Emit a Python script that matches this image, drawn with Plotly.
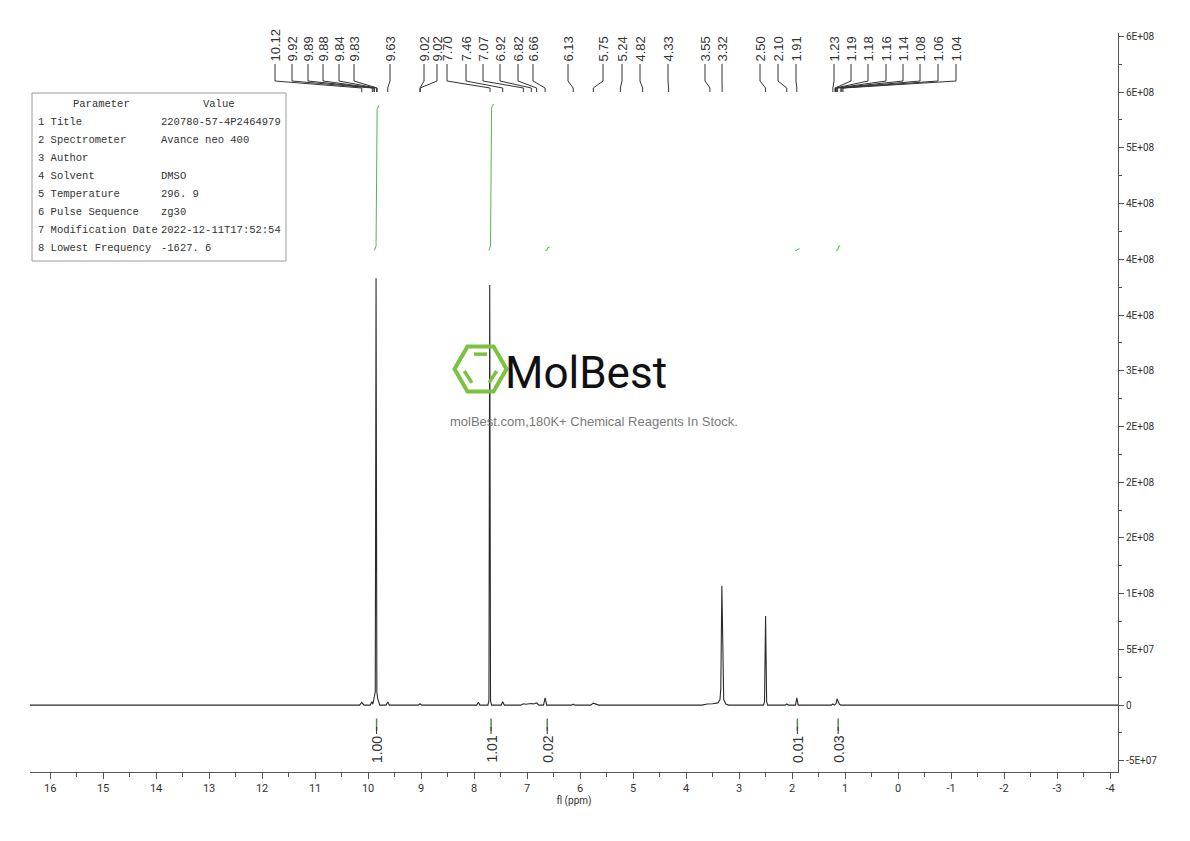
import plotly.graph_objects as go

# 1H NMR trace (ppm, intensity)
shift_ppm = [16.38, 10.16, 10.12, 10.08, 9.96, 9.93, 9.91, 9.895, 9.88, 9.865, 9.85, 9.835, 9.82, 9.80, 9.78,
             9.66, 9.63, 9.60, 9.05, 9.02, 8.99, 7.95, 7.92, 7.89, 7.74, 7.72, 7.705, 7.69, 7.67,
             7.49, 7.46, 7.43, 7.12, 7.07, 7.02, 6.96, 6.92, 6.88, 6.82, 6.78, 6.69, 6.66, 6.63,
             6.16, 6.13, 6.10, 5.80, 5.75, 5.70, 5.65, 3.70, 3.60, 3.50, 3.40, 3.36, 3.345, 3.325,
             3.305, 3.29, 3.25, 3.20, 2.54, 2.52, 2.50, 2.48, 2.46, 2.13, 2.10, 2.07, 1.935, 1.91,
             1.885, 1.26, 1.23, 1.20, 1.17, 1.15, 1.13, 1.11, 1.08, -4.15]
intensity = [0, 0, 2.5e6, 0, 0, 3e6, 8e5, 5e6, 7e6, 1.2e7, 3.83e8, 1.2e7, 6e6, 3e6, 0,
             0, 2.8e6, 0, 0, 1.2e6, 0, 0, 2.5e6, 0, 0, 4e6, 3.77e8, 4e6, 0,
             0, 3e6, 0, 0, 1.2e6, 8e5, 1.2e6, 1.5e6, 1e6, 2e6, 0, 0, 6.5e6, 0,
             0, 8e5, 0, 0, 1.8e6, 8e5, 0, 0, 1.0e6, 1.2e6, 2e6, 5e6, 1.5e7, 1.07e8,
             1.5e7, 5e6, 1e6, 0, 0, 3e6, 8.0e7, 3e6, 0, 0, 1e6, 0, 0, 6.6e6,
             0, 0, 1e6, 0, 1.5e6, 5.7e6, 3e6, 1e6, 0, 0]

# picked peaks
peak_ppm = [10.12, 9.92, 9.89, 9.88, 9.84, 9.83, 9.63, 9.02, 9.02, 7.70, 7.46, 7.07, 6.92, 6.82, 6.66,
            6.13, 5.75, 5.24, 4.82, 4.33, 3.55, 3.32, 2.50, 2.10, 1.91, 1.23, 1.19, 1.18, 1.16, 1.14,
            1.08, 1.06, 1.04]

# integrations
integ_ppm = [9.84, 7.68, 6.62, 1.90, 1.13]
integ_val = [1.00, 1.01, 0.02, 0.01, 0.03]

y_tickvals = [-5e7, 0, 5e7, 1e8, 1.5e8, 2e8, 2.5e8, 3e8, 3.5e8, 4e8, 4.5e8, 5e8, 5.5e8, 6e8]
y_ticktext = ["-5E+07", "0", "5E+07", "1E+08", "2E+08", "2E+08", "2E+08", "3E+08", "4E+08",
              "4E+08", "4E+08", "5E+08", "6E+08", "6E+08"]
x_tickvals = list(range(16, -5, -1))

param_names = ["1 Title", "2 Spectrometer", "3 Author", "4 Solvent", "5 Temperature",
               "6 Pulse Sequence", "7 Modification Date", "8 Lowest Frequency"]
param_values = ["220780-57-4P2464979", "Avance neo 400", "", "DMSO", "296. 9", "zg30",
                "2022-12-11T17:52:54", "-1627. 6"]

# label columns (screen pixel x) used by the peak-picking header
label_px = [275, 292, 308, 323, 339, 354, 390, 424, 437, 447, 466, 483, 500, 518, 533,
            568, 603, 622, 640, 668, 705, 722, 760, 778, 796, 834, 851, 868, 886, 903,
            920, 938, 956]

W, H = 1190, 841
OFF = 8  # default page margin around the figure
PL, PR, PT, PB = 30, 1118, 33, 772
X0, X1 = 16.38, -4.15
Y0, Y1 = -6.0e7, 6.03e8

NARROW = "Roboto, DejaVu Sans, sans-serif"
GREEN = "#3f9a3f"
INK = "#333333"


def px2ppm(px):
    return X0 + (px - PL) / (PR - PL) * (X1 - X0)


def pxp(px):
    return (px - PL) / (PR - PL)


def pyp(py):
    return (PB - py) / (PB - PT)


fig = go.Figure()

fig.add_trace(go.Scatter(x=shift_ppm, y=intensity, mode="lines",
                         line=dict(color="#2b2b2b", width=1.1), hoverinfo="skip"))

# integral curves (upper region) and markers (below the baseline)
base = 4.08e8
span = 1.30e8
for p, v in zip(integ_ppm, integ_val):
    top = base + v * span
    fig.add_trace(go.Scatter(x=[p + 0.04, p + 0.01, p - 0.01, p - 0.04],
                             y=[base, base + 0.03 * (top - base), top - 0.03 * (top - base), top],
                             mode="lines", line=dict(color="#55b455", width=1), hoverinfo="skip"))
    fig.add_trace(go.Scatter(x=[p, p], y=[-1.2e7, -2.3e7], mode="lines",
                             line=dict(color=GREEN, width=1.5), hoverinfo="skip"))
    fig.add_annotation(x=p, y=pyp(734), xref="x", yref="paper", text=f"{v:.2f}",
                       textangle=-90, showarrow=False, xanchor="center", yanchor="top",
                       font=dict(family="Liberation Sans, Arial", size=14, color=INK))
    fig.add_shape(type="line", xref="x", yref="paper", x0=p, x1=p, y0=pyp(727), y1=pyp(734),
                  line=dict(color=INK, width=1))

# peak labels and connectors
for p, lx in zip(peak_ppm, label_px):
    fig.add_annotation(x=pxp(lx), y=pyp(64), xref="paper", yref="paper", text=f"{p:.2f}",
                       textangle=-90, showarrow=False, xanchor="center", yanchor="bottom",
                       font=dict(family="Liberation Sans, Arial", size=13, color=INK))
    lp = px2ppm(lx)
    fig.add_shape(type="path", xref="x", yref="paper",
                  path=f"M {lp},{pyp(64)} L {lp},{pyp(81)} L {p},{pyp(88)} L {p},{pyp(92)}",
                  line=dict(color=INK, width=1))

# parameter table
fig.add_shape(type="rect", xref="paper", yref="paper", x0=pxp(32), x1=pxp(286),
              y0=pyp(261), y1=pyp(93), line=dict(color="#9a9a9a", width=1), fillcolor="white")
TFONT = dict(family="Liberation Mono, DejaVu Sans Mono, monospace", size=10.5, color=INK)
fig.add_annotation(x=pxp(101), y=pyp(104), xref="paper", yref="paper", text="Parameter",
                   showarrow=False, xanchor="center", yanchor="middle", font=TFONT)
fig.add_annotation(x=pxp(219), y=pyp(104), xref="paper", yref="paper", text="Value",
                   showarrow=False, xanchor="center", yanchor="middle", font=TFONT)
for i, (n, v) in enumerate(zip(param_names, param_values)):
    yy = pyp(122 + 18 * i)
    fig.add_annotation(x=pxp(36), y=yy, xref="paper", yref="paper", text=n, showarrow=False,
                       xanchor="left", yanchor="middle", font=TFONT)
    if v:
        fig.add_annotation(x=pxp(159), y=yy, xref="paper", yref="paper", text=v, showarrow=False,
                           xanchor="left", yanchor="middle", font=TFONT)

# watermark logo
cx, cy, r = 480.5, 369, 26
hh = r * 0.866
hexa = [(cx - r, cy), (cx - r / 2, cy - hh), (cx + r / 2, cy - hh), (cx + r, cy),
        (cx + r / 2, cy + hh), (cx - r / 2, cy + hh)]
path = "M " + " L ".join(f"{pxp(a)},{pyp(b)}" for a, b in hexa) + " Z"
fig.add_shape(type="path", xref="paper", yref="paper", path=path,
              line=dict(color="#7cc242", width=4))
ri = r * 0.66
hi = ri * 0.866
inner = [((cx - ri / 2 + 2, cy - hi), (cx + ri / 2 - 2, cy - hi)),
         ((cx - ri + 1, cy + 2), (cx - ri / 2, cy + hi - 1)),
         ((cx + ri - 1, cy + 2), (cx + ri / 2, cy + hi - 1))]
for (a, b), (c, d) in inner:
    fig.add_shape(type="line", xref="paper", yref="paper", x0=pxp(a), y0=pyp(b), x1=pxp(c),
                  y1=pyp(d), line=dict(color="#7cc242", width=3.5))
fig.add_annotation(x=pxp(586), y=pyp(373), xref="paper", yref="paper", text="MolBest",
                   showarrow=False, xanchor="center", yanchor="middle",
                   font=dict(family="Roboto, DejaVu Sans", size=44, color="#111111"))
fig.add_annotation(x=pxp(594), y=pyp(421), xref="paper", yref="paper",
                   text="molBest.com,180K+ Chemical Reagents In Stock.", showarrow=False,
                   xanchor="center", yanchor="middle",
                   font=dict(family="Liberation Sans, Arial", size=13, color="#7a7a7a"))

fig.update_layout(
    width=W - OFF, height=H - OFF,
    margin=dict(l=PL - OFF, r=W - PR, t=PT - OFF, b=H - PB),
    paper_bgcolor="white", plot_bgcolor="white", showlegend=False,
    xaxis=dict(range=[X0, X1], tickmode="array", tickvals=x_tickvals,
               ticktext=[str(t) for t in x_tickvals], showgrid=False, zeroline=False,
               showline=True, linecolor="#555555", linewidth=1, ticks="outside", ticklen=6,
               tickcolor="#555555", tickfont=dict(family=NARROW, size=11, color=INK),
               minor=dict(dtick=0.5, tick0=0, ticks="outside", ticklen=4, tickcolor="#555555"),
               title=dict(text="fl (ppm)", font=dict(family=NARROW, size=10, color=INK),
                          standoff=2)),
    yaxis=dict(range=[Y0, Y1], side="right", tickmode="array", tickvals=y_tickvals,
               ticktext=y_ticktext, showgrid=False, zeroline=False, showline=True,
               linecolor="#555555", linewidth=1, ticks="outside", ticklen=5,
               tickcolor="#555555", tickfont=dict(family=NARROW, size=10, color=INK),
               minor=dict(tickmode="array",
                          tickvals=[v + 2.5e7 for v in y_tickvals[:-1]],
                          ticks="outside", ticklen=3, tickcolor="#555555")),
)

fig.write_html("out.html")
